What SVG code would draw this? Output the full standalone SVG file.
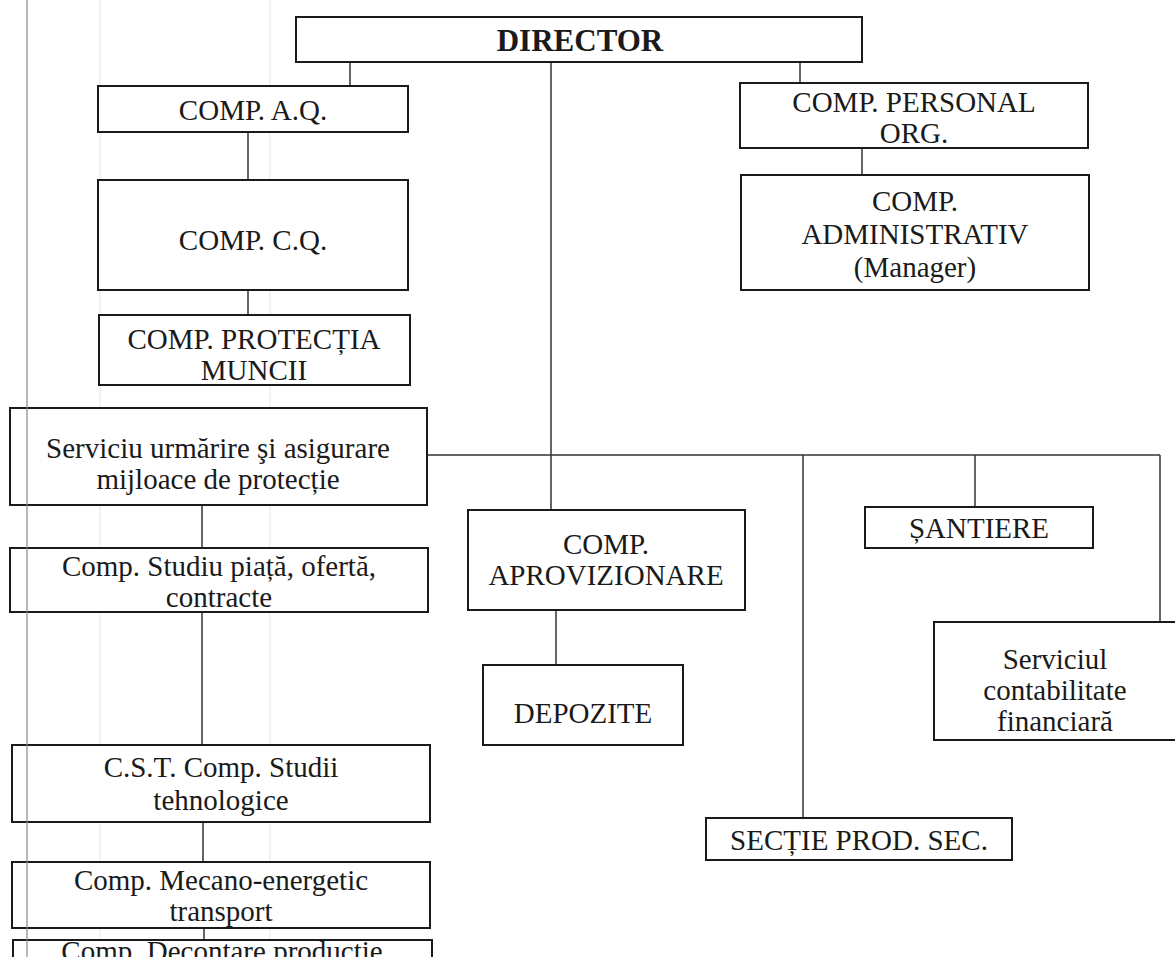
<svg xmlns="http://www.w3.org/2000/svg" width="1175" height="957" viewBox="0 0 1175 957">
<style>
.box{fill:#fff;stroke:#1a1a1a;stroke-width:2}
.t{font-family:"Liberation Serif","Times New Roman","DejaVu Serif",serif;font-size:29px;fill:#1a1a1a;text-anchor:middle}
.b{font-weight:bold;font-size:31px}
.c{stroke:#333;stroke-width:1.5;fill:none}
.scan{stroke:#888;stroke-width:1.2}
.faint{stroke:#e4e4e4;stroke-width:1}
</style>
<rect width="1175" height="957" fill="#fff"/>
<g id="scan-lines">
<line class="faint" x1="100" y1="0" x2="100" y2="957"/>
<line class="faint" x1="270" y1="0" x2="270" y2="957"/>
</g>
<g id="connectors">
<line class="c" x1="350" y1="62" x2="350" y2="86"/>
<line class="c" x1="248" y1="132" x2="248" y2="180"/>
<line class="c" x1="248" y1="290" x2="248" y2="315"/>
<line class="c" x1="551" y1="62" x2="551" y2="510"/>
<line class="c" x1="427" y1="455" x2="1160" y2="455"/>
<line class="c" x1="202" y1="505" x2="202" y2="548"/>
<line class="c" x1="202" y1="612" x2="202" y2="745"/>
<line class="c" x1="203" y1="822" x2="203" y2="862"/>
<line class="c" x1="204" y1="928" x2="204" y2="940"/>
<line class="c" x1="800" y1="62" x2="800" y2="83"/>
<line class="c" x1="862" y1="148" x2="862" y2="175"/>
<line class="c" x1="556" y1="610" x2="556" y2="665"/>
<line class="c" x1="975" y1="455" x2="975" y2="507"/>
<line class="c" x1="1160" y1="455" x2="1160" y2="622"/>
<line class="c" x1="803" y1="455" x2="803" y2="818"/>
</g>
<g id="director"><rect class="box" x="296" y="17" width="566" height="45"/><text class="t b" x="580" y="51">DIRECTOR</text></g>
<g id="comp-aq"><rect class="box" x="98" y="86" width="310" height="46"/><text class="t" x="253" y="120">COMP. A.Q.</text></g>
<g id="comp-cq"><rect class="box" x="98" y="180" width="310" height="110"/><text class="t" x="253" y="250">COMP. C.Q.</text></g>
<g id="comp-protectia"><rect class="box" x="99" y="315" width="311" height="70"/><text class="t" x="254" y="349">COMP. PROTECȚIA</text><text class="t" x="254" y="380">MUNCII</text></g>
<g id="serviciu-urmarire"><rect class="box" x="10" y="408" width="417" height="97"/><text class="t" x="218" y="458">Serviciu urmărire şi asigurare</text><text class="t" x="218" y="489">mijloace de protecție</text></g>
<g id="comp-studiu"><rect class="box" x="10" y="548" width="418" height="64"/><text class="t" x="219" y="576">Comp. Studiu piață, ofertă,</text><text class="t" x="219" y="607">contracte</text></g>
<g id="cst"><rect class="box" x="12" y="745" width="418" height="77"/><text class="t" x="221" y="777">C.S.T. Comp. Studii</text><text class="t" x="221" y="810">tehnologice</text></g>
<g id="mecano"><rect class="box" x="12" y="862" width="418" height="66"/><text class="t" x="221" y="890">Comp. Mecano-energetic</text><text class="t" x="221" y="921">transport</text></g>
<g id="decontare"><rect class="box" x="13" y="940" width="419" height="30"/><text class="t" x="222" y="961">Comp. Decontare producție</text></g>
<g id="comp-personal"><rect class="box" x="740" y="83" width="348" height="65"/><text class="t" x="914" y="112">COMP. PERSONAL</text><text class="t" x="914" y="143">ORG.</text></g>
<g id="comp-administrativ"><rect class="box" x="741" y="175" width="348" height="115"/><text class="t" x="915" y="211">COMP.</text><text class="t" x="915" y="244">ADMINISTRATIV</text><text class="t" x="915" y="277">(Manager)</text></g>
<g id="comp-aprovizionare"><rect class="box" x="468" y="510" width="277" height="100"/><text class="t" x="606" y="554">COMP.</text><text class="t" x="606" y="585">APROVIZIONARE</text></g>
<g id="depozite"><rect class="box" x="483" y="665" width="200" height="80"/><text class="t" x="583" y="723">DEPOZITE</text></g>
<g id="santiere"><rect class="box" x="865" y="507" width="228" height="41"/><text class="t" x="979" y="538">ȘANTIERE</text></g>
<g id="contabilitate"><rect class="box" x="934" y="622" width="250" height="118"/><text class="t" x="1055" y="669">Serviciul</text><text class="t" x="1055" y="700">contabilitate</text><text class="t" x="1055" y="731">financiară</text></g>
<g id="sectie"><rect class="box" x="706" y="818" width="306" height="42"/><text class="t" x="859" y="850">SECȚIE PROD. SEC.</text></g>
<line class="scan" x1="27" y1="0" x2="27" y2="957"/>
</svg>
